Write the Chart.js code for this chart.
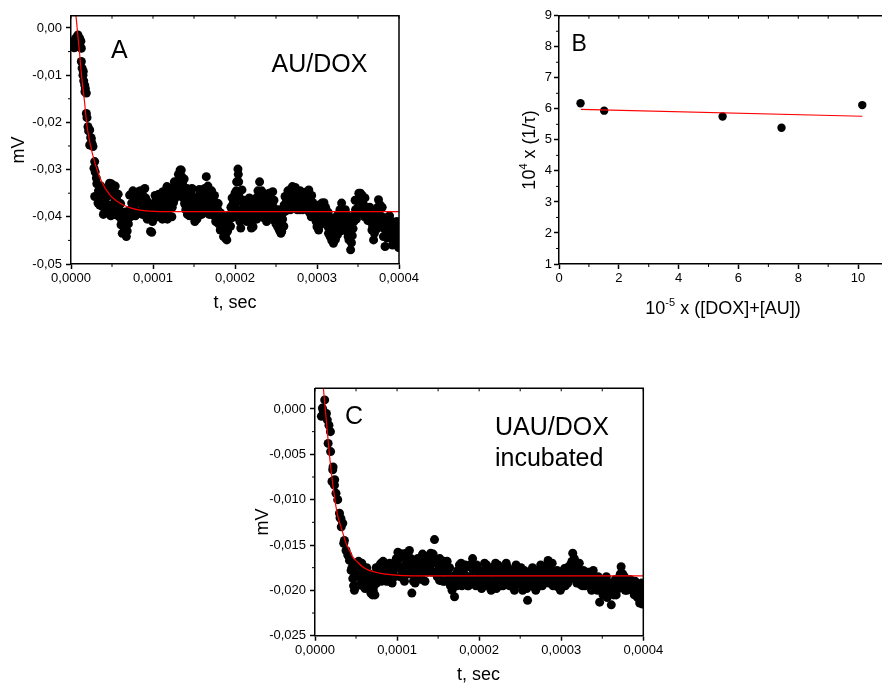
<!DOCTYPE html>
<html><head><meta charset="utf-8">
<script src="https://cdn.jsdelivr.net/npm/chart.js@4.4.1/dist/chart.umd.min.js"></script>
<style>
html,body{margin:0;padding:0;background:#fff;overflow:hidden;width:882px;height:683px;position:relative}
canvas{position:absolute;display:block}
</style></head><body>
<canvas id="cA" width="440" height="330" style="left:0;top:0"></canvas>
<canvas id="cB" width="420" height="330" style="left:500px;top:0"></canvas>
<canvas id="cC" width="440" height="313" style="left:240px;top:370px"></canvas>
<script>
// ---------- DATA (time in microseconds, signal in mV) ----------
const US = 1e-6;

// Panel A : AU/DOX
const pointsA = [[3,-0.0030],[4,-0.0042],[4.5,-0.0036],[5.5,-0.0022],[6.5,-0.0025],[7,-0.0040],[8,-0.0018],[8.5,-0.0015],[9.5,-0.0030],[10.6,-0.0022],[11,-0.0038],[12,-0.0028],[12.6,-0.0043],[12.6,-0.0071],[13.5,-0.0085],[14.6,-0.0100],[15,-0.0092],[15.5,-0.0112],[16.7,-0.0121],[17,-0.0135],[17.5,-0.0128],[18.7,-0.0138],[18.7,-0.0181],[19.5,-0.0190],[20.7,-0.0209],[21.5,-0.0218],[22.8,-0.0216],[22.8,-0.0248],[24,-0.0232],[24.8,-0.0234],[25.5,-0.0244],[26.8,-0.0251],[28,-0.0297],[28.9,-0.0283],[29.5,-0.0305],[30.9,-0.0318],[31.5,-0.0330],[28.9,-0.0357],[32.9,-0.0371],[33.5,-0.0345],[35,-0.0354],[35,-0.0375],
[37,-0.0340],[39,-0.0362],[41,-0.0382],[43,-0.0386],[45,-0.0386],[47,-0.0329],[49,-0.0330],[51,-0.0333],[53,-0.0346],[55,-0.0396],[57,-0.0395],[59,-0.0400],[61,-0.0417],[62,-0.0410],[64,-0.0421],[66,-0.0390],[67.5,-0.0442],[69.5,-0.0389],[71.5,-0.0354],[74,-0.0371],[76,-0.0357],[78,-0.0368],[80,-0.0350],[82,-0.0347],[84,-0.0370],[86,-0.0365],[88,-0.0380],[90,-0.0340],[92,-0.0375],[94,-0.0390],[96,-0.0403],[97,-0.0431],[98.4,-0.0433],[102,-0.0380],[104,-0.0365],[106,-0.0390],[108,-0.0364],[110,-0.0372],[112,-0.0347],[113,-0.0350],[115,-0.0380],[117,-0.0336],[118,-0.0396],[120,-0.0375],[122,-0.0340],[123,-0.0400],[125,-0.0370],[126,-0.0326],[128,-0.0340],[129,-0.0326],[131,-0.0310],[133,-0.0301],[134.5,-0.0301],[135,-0.0315],[136,-0.0330],[137,-0.0345],[138,-0.0360],[139,-0.0340],[141,-0.0364],[143,-0.0350],[145,-0.0375],[147,-0.0385],[149,-0.0393],[151,-0.0410],[153,-0.0370],[155,-0.0360],[157,-0.0350],[159,-0.0375],[161,-0.0350],[163,-0.0340],[165,-0.0315],[167,-0.0335],[169,-0.0370],[171,-0.0360],[173,-0.0380],[175,-0.0355],[177,-0.0370],[179,-0.0385],[181,-0.0400],[182,-0.0428],[184,-0.0410],[186,-0.0442],[188,-0.0420],[190,-0.0449],[191,-0.0430],[193,-0.0400],[195,-0.0380],[197,-0.0375],[198,-0.0364],[200,-0.0350],[202,-0.0326],[203.6,-0.0299],[204.5,-0.0326],[205,-0.0357],[206,-0.0386],[207,-0.0424],[208.5,-0.0343],[210,-0.0370],[212,-0.0385],[214,-0.0390],[216,-0.0375],[218,-0.0395],[220,-0.0424],[222,-0.0421],[224,-0.0380],[226,-0.0360],[228,-0.0345],[230,-0.0326],[232,-0.0370],[234,-0.0390],[236,-0.0385],[238,-0.0375],[240,-0.0360],[242,-0.0385],[244,-0.0380],[246,-0.0347],[248,-0.0407],[250,-0.0415],[252,-0.0421],[254,-0.0428],[256,-0.0435],[257,-0.0431],[259,-0.0390],[261,-0.0357],[263,-0.0365],[265,-0.0350],[267,-0.0345],[269,-0.0340],[270,-0.0336],[272,-0.0365],[274,-0.0380],[276,-0.0385],[278,-0.0357],[280,-0.0350],[282,-0.0365],[284,-0.0370],[286,-0.0355],[288,-0.0365],[290,-0.0343],[292,-0.0378],[294,-0.0385],[296,-0.0395],[298,-0.0400],[300,-0.0421],[302,-0.0428],[304,-0.0390],[306,-0.0371],[308,-0.0390],[310,-0.0407],[312,-0.0410],[314,-0.0435],[316,-0.0442],[318,-0.0450],[320,-0.0456],[322,-0.0420],[324,-0.0400],[326,-0.0420],[328,-0.0385],[330,-0.0371],[332,-0.0400],[334,-0.0415],[336,-0.0430],[338,-0.0442],[339,-0.0449],[341,-0.0470],[343,-0.0440],[345,-0.0410],[347,-0.0385],[349,-0.0364],[351,-0.0350],[353,-0.0350],[355,-0.0355],[357,-0.0375],[359,-0.0380],[361,-0.0400],[363,-0.0393],[365,-0.0410],[367,-0.0428],[369,-0.0449],[371,-0.0415],[373,-0.0390],[375,-0.0364],[377,-0.0375],[379,-0.0400],[381,-0.0442],[383,-0.0463],[385,-0.0420],[387,-0.0400],[389,-0.0415],[391,-0.0435],[393,-0.0449],[395,-0.0430],[397,-0.0442],[399,-0.0440],
[36,-0.0365],[38,-0.0378],[40,-0.0352],[42,-0.0392],[44,-0.0340],[46,-0.0375],[48,-0.0388],[50,-0.0355],[52,-0.0372],[54,-0.0335],[56,-0.0365],[58,-0.0380],[60,-0.0388],[63,-0.0398],[65,-0.0430],[68,-0.0405],[70,-0.0415],[73,-0.0385],[75,-0.0395],[77,-0.0378],[79,-0.0388],[81,-0.0368],[83,-0.0392],[85,-0.0352],[87,-0.0395],[89,-0.0372],[91,-0.0360],[93,-0.0405],[95,-0.0385],[99,-0.0395],[101,-0.0372],[103,-0.0395],[105,-0.0378],[107,-0.0352],[109,-0.0395],[111,-0.0385],[114,-0.0400],[116,-0.0362],[119,-0.0385],[121,-0.0365],[124,-0.0355],[127,-0.0350],[130,-0.0335],[132,-0.0355],[134,-0.0325],[136.5,-0.0360],[138.5,-0.0372],[140,-0.0385],[142,-0.0395],[144,-0.0362],[146,-0.0348],[148,-0.0360],[150,-0.0378],[152,-0.0395],[154,-0.0385],[156,-0.0375],[158,-0.0395],[160,-0.0372],[162,-0.0360],[164,-0.0345],[166,-0.0362],[168,-0.0352],[170,-0.0385],[172,-0.0395],[174,-0.0375],[176,-0.0392],[178,-0.0402],[180,-0.0415],[183,-0.0395],[185,-0.0425],[187,-0.0405],[189,-0.0435],[192,-0.0418],[194,-0.0395],[196,-0.0402],[199,-0.0385],[201,-0.0372],[203,-0.0350],[206.5,-0.0400],[209,-0.0392],[211,-0.0400],[213,-0.0372],[215,-0.0405],[217,-0.0385],[219,-0.0405],[221,-0.0395],[223,-0.0405],[225,-0.0385],[227,-0.0372],[229,-0.0358],[231,-0.0385],[233,-0.0355],[235,-0.0402],[237,-0.0395],[239,-0.0372],[241,-0.0395],[243,-0.0370],[245,-0.0390],[247,-0.0380],[249,-0.0395],[251,-0.0400],[253,-0.0410],[255,-0.0418],[258,-0.0405],[260,-0.0375],[262,-0.0380],[264,-0.0372],[266,-0.0360],[268,-0.0378],[271,-0.0352],[273,-0.0350],[275,-0.0365],[277,-0.0372],[279,-0.0385],[281,-0.0378],[283,-0.0352],[285,-0.0380],[287,-0.0372],[289,-0.0385],[291,-0.0365],[293,-0.0400],[295,-0.0370],[297,-0.0385],[299,-0.0410],[301,-0.0395],[303,-0.0412],[305,-0.0385],[307,-0.0402],[309,-0.0385],[311,-0.0395],[313,-0.0420],[315,-0.0400],[317,-0.0425],[319,-0.0435],[321,-0.0440],[323,-0.0405],[325,-0.0438],[327,-0.0400],[329,-0.0415],[331,-0.0392],[333,-0.0425],[335,-0.0400],[337,-0.0415],[340,-0.0425],[342,-0.0455],[344,-0.0425],[346,-0.0395],[348,-0.0405],[350,-0.0380],[352,-0.0370],[354,-0.0375],[356,-0.0392],[358,-0.0400],[360,-0.0385],[362,-0.0408],[364,-0.0402],[366,-0.0395],[368,-0.0420],[370,-0.0435],[372,-0.0402],[374,-0.0380],[376,-0.0395],[378,-0.0420],[380,-0.0410],[382,-0.0425],[384,-0.0440],[386,-0.0405],[388,-0.0435],[390,-0.0420],[392,-0.0460],[394,-0.0415],[396,-0.0455],[398,-0.0425],[400,-0.0455],
[36.5,-0.0335],[39.5,-0.0395],[42.5,-0.0360],[45.5,-0.0345],[48.5,-0.0398],[51.5,-0.0385],[54.5,-0.0370],[57.5,-0.0352],[60.5,-0.0372],[62.5,-0.0435],[64.5,-0.0400],[66.5,-0.0415],[68.5,-0.0430],[70.5,-0.0392],[72.5,-0.0400],[75.5,-0.0345],[78.5,-0.0398],[81.5,-0.0390],[84.5,-0.0345],[87.5,-0.0355],[90.5,-0.0395],[93.5,-0.0368],[96.5,-0.0375],[99.5,-0.0410],[102.5,-0.0355],[105.5,-0.0400],[108.5,-0.0390],[111.5,-0.0405],[114.5,-0.0360],[117.5,-0.0405],[120.5,-0.0352],[123.5,-0.0380],[126.5,-0.0362],[129.5,-0.0355],[132.5,-0.0320],[135.5,-0.0345],[138,-0.0320],[139.5,-0.0375],[141.5,-0.0340],[144.5,-0.0398],[147.5,-0.0340],[150.5,-0.0360],[153.5,-0.0405],[156.5,-0.0342],[159.5,-0.0395],[162.5,-0.0382],[165.5,-0.0345],[168.5,-0.0395],[171.5,-0.0345],[174.5,-0.0398],[176.5,-0.0410],[179.5,-0.0372],[182.5,-0.0392],[185.5,-0.0405],[188.5,-0.0445],[191.5,-0.0398],[194.5,-0.0420],[196.5,-0.0360],[199.5,-0.0400],[201.5,-0.0345],[204,-0.0310],[206,-0.0410],[209.5,-0.0405],[211.5,-0.0365],[214.5,-0.0410],[217.5,-0.0360],[220.5,-0.0385],[223.5,-0.0365],[226.5,-0.0405],[229.5,-0.0395],[232.5,-0.0345],[235.5,-0.0368],[238.5,-0.0410],[241.5,-0.0350],[244.5,-0.0405],[247.5,-0.0365],[250.5,-0.0390],[253.5,-0.0385],[256.5,-0.0400],[259.5,-0.0420],[261.5,-0.0388],[264.5,-0.0345],[267.5,-0.0385],[270.5,-0.0375],[273.5,-0.0338],[276.5,-0.0355],[279.5,-0.0345],[282.5,-0.0385],[285.5,-0.0348],[288.5,-0.0352],[290.5,-0.0390],[293.5,-0.0355],[296.5,-0.0375],[299.5,-0.0385],[302.5,-0.0375],[305.5,-0.0415],[308.5,-0.0370],[310.5,-0.0380],[313.5,-0.0390],[316.5,-0.0410],[319.5,-0.0405],[322.5,-0.0448],[325.5,-0.0395],[328.5,-0.0430],[331.5,-0.0420],[334.5,-0.0385],[337.5,-0.0398],[340.5,-0.0440],[343.5,-0.0405],[346.5,-0.0365],[349.5,-0.0395],[352.5,-0.0390],[355.5,-0.0368],[358.5,-0.0360],[361.5,-0.0385],[364.5,-0.0380],[367.5,-0.0400],[370.5,-0.0395],[373.5,-0.0425],[376.5,-0.0412],[379.5,-0.0380],[382.5,-0.0405],[385.5,-0.0445],[388.5,-0.0398],[391.5,-0.0410],[394.5,-0.0440],[397.5,-0.0410],[399.5,-0.0465]];
const fitA = [[5,0.0030],[6.1,0.0024],[8,-0.0010],[10.1,-0.0047],[13,-0.0103],[16.3,-0.0153],[19.1,-0.0202],[23.2,-0.0244],[29.3,-0.0287],[37.4,-0.0326],[47.6,-0.0354],[63.8,-0.0375],[84,-0.0386],[110,-0.0389],[400,-0.0389]];
const xTicksA = [0, 0.0001, 0.0002, 0.0003, 0.0004];
const xLabelsA = ['0,0000','0,0001','0,0002','0,0003','0,0004'];
const xMinorA = [0.00005, 0.00015, 0.00025, 0.00035];
const yTicksA = [-0.05,-0.04,-0.03,-0.02,-0.01,0];
const yLabelsA = ['-0,05','-0,04','-0,03','-0,02','-0,01','0,00'];
const yMinorA = [-0.045,-0.035,-0.025,-0.015,-0.005];

// Panel B : rate constant vs concentration
const concB = [0.72, 1.51, 5.47, 7.44, 10.14];
const rateB = [6.18, 5.94, 5.75, 5.39, 6.12];
const fitB = [[0.73,5.98],[10.14,5.76]];
const xTicksB = [0,2,4,6,8,10];
const xMinorB = [1,3,5,7,9,11];
const yTicksB = [1,2,3,4,5,6,7,8,9];
const yMinorB = [1.5,2.5,3.5,4.5,5.5,6.5,7.5,8.5];

// Panel C : UAU/DOX incubated
const pointsC = [[7.8,-0.0008],[9,0.0001],[10,-0.0002],[11.8,0.0010],[13.9,-0.0005],[15,-0.0012],[17,-0.0018],[18.8,-0.0025],[16,-0.0038],[19,-0.0047],[20.7,-0.0080],[21.6,-0.0067],[22,-0.0064],[23.7,-0.0084],[24,-0.0078],[25.6,-0.0093],[27.7,-0.0100],[29.8,-0.0115],[30.5,-0.0120],[31.7,-0.0121],[32,-0.0130],[33.8,-0.0126],[35,-0.0148],[35.8,-0.0145],[37.8,-0.0156],[39.9,-0.0161],[42,-0.0167],[44,-0.0178],[46,-0.0187],
[50,-0.0170],[54,-0.0178],[56,-0.0192],[60,-0.0180],[64,-0.0189],[68,-0.0203],[70,-0.0205],[72,-0.0195],[74,-0.0185],[76,-0.0178],[80.5,-0.0170],[84,-0.0172],[86,-0.0182],[90,-0.0190],[92,-0.0180],[95,-0.0185],[98,-0.0175],[101,-0.0158],[103,-0.0165],[106,-0.0178],[108,-0.0185],[111,-0.0159],[113,-0.0170],[115,-0.0156],[116,-0.0175],[118,-0.0203],[121,-0.0180],[124,-0.0175],[127,-0.0170],[129,-0.0167],[132,-0.0178],[135,-0.0165],[138,-0.0170],[141,-0.0159],[143,-0.0163],[145.6,-0.0144],[148,-0.0170],[151.7,-0.0189],[154,-0.0175],[157,-0.0168],[160,-0.0178],[163,-0.0185],[166,-0.0190],[170,-0.0207],[172,-0.0182],[175,-0.0188],[178,-0.0170],[181,-0.0180],[184,-0.0192],[188,-0.0185],[192,-0.0165],[195,-0.0178],[198,-0.0190],[202,-0.0192],[206.6,-0.0170],[210,-0.0182],[214.6,-0.0200],[218,-0.0178],[222,-0.0185],[226,-0.0195],[230,-0.0180],[233,-0.0170],[236,-0.0185],[240,-0.0190],[244,-0.0178],[248,-0.0188],[252,-0.0195],[256,-0.0185],[259,-0.0211],[262,-0.0180],[266,-0.0190],[270,-0.0182],[274,-0.0195],[278,-0.0178],[280,-0.0174],[284,-0.0167],[288,-0.0180],[292,-0.0188],[296,-0.0196],[300,-0.0183],[304,-0.0176],[308,-0.0192],[311,-0.0172],[314,-0.0159],[316,-0.0165],[318,-0.0178],[321,-0.0186],[324,-0.0194],[328,-0.0188],[332,-0.0185],[336,-0.0195],[340,-0.0190],[344,-0.0200],[346.8,-0.0213],[350,-0.0195],[354,-0.0190],[357,-0.0200],[361,-0.0216],[364,-0.0205],[368,-0.0195],[371,-0.0185],[373,-0.0174],[376,-0.0190],[379,-0.0195],[382,-0.0188],[385,-0.0198],[388,-0.0192],[391,-0.0200],[393,-0.0208],[395.6,-0.0214],[398,-0.0205],[400,-0.0210],
[45,-0.0175],[47,-0.0195],[49,-0.0185],[51,-0.0195],[53,-0.0168],[55,-0.0185],[58,-0.0195],[62,-0.0182],[66,-0.0198],[69,-0.0190],[73,-0.0205],[75,-0.0192],[78,-0.0188],[82,-0.0180],[88,-0.0175],[94,-0.0192],[97,-0.0185],[100,-0.0170],[104,-0.0185],[107,-0.0160],[110,-0.0172],[114,-0.0182],[117,-0.0165],[120,-0.0190],[123,-0.0185],[126,-0.0180],[130,-0.0188],[133,-0.0170],[137,-0.0180],[140,-0.0175],[144,-0.0160],[147,-0.0180],[150,-0.0172],[153,-0.0182],[156,-0.0190],[159,-0.0170],[162,-0.0178],[165,-0.0195],[168,-0.0185],[171,-0.0195],[174,-0.0178],[177,-0.0190],[180,-0.0185],[183,-0.0172],[186,-0.0195],[190,-0.0175],[194,-0.0188],[197,-0.0172],[200,-0.0185],[204,-0.0180],[208,-0.0190],[212,-0.0175],[216,-0.0192],[220,-0.0170],[224,-0.0180],[228,-0.0188],[232,-0.0192],[235,-0.0175],[238,-0.0182],[242,-0.0195],[246,-0.0185],[250,-0.0178],[254,-0.0190],[258,-0.0198],[264,-0.0185],[268,-0.0195],[272,-0.0178],[276,-0.0188],[282,-0.0185],[286,-0.0175],[290,-0.0195],[294,-0.0182],[298,-0.0190],[302,-0.0195],[306,-0.0182],[310,-0.0188],[313,-0.0168],[317,-0.0185],[320,-0.0175],[323,-0.0182],[326,-0.0195],[330,-0.0180],[334,-0.0192],[338,-0.0185],[342,-0.0195],[348,-0.0200],[352,-0.0188],[356,-0.0208],[359,-0.0195],[363,-0.0198],[366,-0.0188],[370,-0.0198],[375,-0.0182],[378,-0.0200],[381,-0.0195],[384,-0.0188],[387,-0.0200],[390,-0.0190],[394,-0.0205],[397,-0.0198],[399,-0.0215],
[46.5,-0.0178],[48,-0.0200],[52,-0.0180],[57,-0.0170],[59,-0.0188],[61,-0.0198],[63,-0.0175],[65,-0.0190],[67,-0.0182],[71,-0.0200],[74.5,-0.0175],[77,-0.0185],[79,-0.0172],[81,-0.0190],[83,-0.0168],[85,-0.0178],[87,-0.0190],[89,-0.0182],[91,-0.0170],[93,-0.0188],[96,-0.0178],[99,-0.0165],[102,-0.0175],[105,-0.0160],[109,-0.0190],[112,-0.0165],[119,-0.0172],[122,-0.0192],[125,-0.0165],[128,-0.0185],[131,-0.0160],[134,-0.0190],[136,-0.0172],[139,-0.0162],[142,-0.0180],[146,-0.0165],[149,-0.0185],[152,-0.0165],[155,-0.0180],[158,-0.0190],[161,-0.0168],[164,-0.0175],[167,-0.0200],[169,-0.0190],[173,-0.0195],[176,-0.0172],[179,-0.0195],[182,-0.0175],[185,-0.0185],[187,-0.0195],[189,-0.0172],[191,-0.0190],[193,-0.0178],[196,-0.0195],[199,-0.0178],[201,-0.0178],[203,-0.0198],[205,-0.0185],[207,-0.0195],[209,-0.0172],[211,-0.0190],[213,-0.0182],[217,-0.0175],[219,-0.0190],[221,-0.0198],[223,-0.0172],[225,-0.0188],[227,-0.0178],[229,-0.0195],[231,-0.0175],[234,-0.0190],[237,-0.0195],[239,-0.0178],[241,-0.0185],[243,-0.0200],[245,-0.0172],[247,-0.0192],[249,-0.0182],[251,-0.0175],[253,-0.0200],[255,-0.0178],[257,-0.0192],[260,-0.0188],[263,-0.0195],[265,-0.0175],[267,-0.0185],[269,-0.0200],[271,-0.0190],[273,-0.0182],[275,-0.0172],[277,-0.0195],[279,-0.0185],[281,-0.0190],[283,-0.0178],[285,-0.0192],[287,-0.0185],[289,-0.0170],[291,-0.0180],[293,-0.0195],[295,-0.0178],[297,-0.0185],[299,-0.0200],[301,-0.0188],[303,-0.0180],[305,-0.0195],[307,-0.0175],[309,-0.0182],[312,-0.0178],[315,-0.0172],[319,-0.0192],[322,-0.0170],[325,-0.0185],[327,-0.0178],[329,-0.0195],[331,-0.0192],[333,-0.0180],[335,-0.0188],[337,-0.0200],[339,-0.0178],[341,-0.0185],[343,-0.0192],[345,-0.0185],[347,-0.0195],[349,-0.0190],[351,-0.0205],[353,-0.0195],[355,-0.0185],[358,-0.0205],[360,-0.0192],[362,-0.0200],[365,-0.0192],[367,-0.0205],[369,-0.0190],[372,-0.0182],[374,-0.0195],[377,-0.0185],[380,-0.0200],[383,-0.0195],[386,-0.0190],[389,-0.0205],[392,-0.0195],[396,-0.0200],[398,-0.0192]];
const fitC = [[9.5,0.0030],[12,0.0005],[15,-0.0025],[19.5,-0.0067],[22,-0.0085],[25.6,-0.0108],[28,-0.0119],[31.7,-0.0130],[35,-0.0140],[37.8,-0.0148],[42,-0.0156],[46,-0.0163],[52,-0.0169],[58,-0.0174],[66,-0.0178],[78.5,-0.0181],[95,-0.0183],[120,-0.0184],[400,-0.0184]];
const xTicksC = [0, 0.0001, 0.0002, 0.0003, 0.0004];
const xLabelsC = ['0,0000','0,0001','0,0002','0,0003','0,0004'];
const xMinorC = [0.00005, 0.00015, 0.00025, 0.00035];
const yTicksC = [-0.025,-0.02,-0.015,-0.01,-0.005,0];
const yLabelsC = ['-0,025','-0,020','-0,015','-0,010','-0,005','0,000'];
const yMinorC = [-0.0225,-0.0175,-0.0125,-0.0075,-0.0025];

// ---------- DRAWING ----------
const FONT = "'Liberation Sans', Arial, sans-serif";

function richText(ctx, parts, x, y, size, align, rotate) {
  ctx.save();
  ctx.translate(x, y);
  if (rotate) ctx.rotate(-Math.PI / 2);
  ctx.fillStyle = '#000';
  ctx.textBaseline = 'alphabetic';
  ctx.textAlign = 'left';
  const fontOf = p => (p.sup ? Math.round(size * 0.62) : size) + 'px ' + FONT;
  let w = 0;
  parts.forEach(p => { ctx.font = fontOf(p); w += ctx.measureText(p.t).width; });
  let cx = align === 'center' ? -w / 2 : 0;
  parts.forEach(p => {
    ctx.font = fontOf(p);
    ctx.fillText(p.t, cx, p.sup ? -size * 0.42 : 0);
    cx += ctx.measureText(p.t).width;
  });
  ctx.restore();
}

const deco = {
  id: 'deco',
  afterDatasetsDraw(chart, args, o) {
    const {ctx, chartArea: a, scales: {x, y}} = chart;
    ctx.save();
    ctx.strokeStyle = '#000';
    ctx.lineWidth = 1.5;
    ctx.beginPath();
    ctx.moveTo(a.left, a.top); ctx.lineTo(a.right, a.top); ctx.lineTo(a.right, a.bottom);
    ctx.stroke();
    ctx.lineWidth = 1;
    ctx.beginPath();
    o.xMinor.forEach(v => { const p = x.getPixelForValue(v); ctx.moveTo(p, a.bottom); ctx.lineTo(p, a.bottom + 3); });
    o.yMinor.forEach(v => { const p = y.getPixelForValue(v); ctx.moveTo(a.left - 3, p); ctx.lineTo(a.left, p); });
    o.xMajor.concat(o.xMinor).forEach(v => { const p = x.getPixelForValue(v); ctx.moveTo(p, a.top); ctx.lineTo(p, a.top + 3); });
    ctx.stroke();
    ctx.restore();
    o.texts.forEach(t => richText(ctx, t.parts, t.x - o.ox, t.y - o.oy, t.size, t.align, t.rot));
  }
};

function makePanel(id, g, datasets, ax, ay, texts) {
  const c = document.getElementById(id);
  const axisFont = {family: FONT, size: 13};
  const gridOpt = {drawOnChartArea: false, drawTicks: true, tickLength: 5, tickWidth: 1.5, tickColor: '#000'};
  new Chart(c, {
    type: 'scatter',
    data: {datasets},
    options: {
      responsive: false, animation: false, events: [],
      layout: {padding: {left: 0, top: g.aT - g.top, right: g.left + c.width - g.aR, bottom: 0}},
      plugins: {
        legend: {display: false}, tooltip: {enabled: false},
        deco: {xMinor: ax.minor, yMinor: ay.minor, xMajor: ax.ticks, texts, ox: g.left, oy: g.top}
      },
      scales: {
        x: {
          type: 'linear', position: 'bottom', min: ax.min, max: ax.max,
          afterBuildTicks: s => { s.ticks = ax.ticks.map(v => ({value: v})); },
          afterFit: s => { s.height = g.top + c.height - g.aB; },
          ticks: {callback: (v, i) => ax.labels[i], font: axisFont, color: '#000', padding: ax.pad, maxRotation: 0, autoSkip: false},
          grid: gridOpt, border: {display: true, color: '#000', width: 1.5}
        },
        y: {
          type: 'linear', position: 'left', min: ay.min, max: ay.max,
          afterBuildTicks: s => { s.ticks = ay.ticks.map(v => ({value: v})); },
          afterFit: s => { s.width = g.aL - g.left; },
          ticks: {callback: (v, i) => ay.labels[i], font: axisFont, color: '#000', padding: ay.pad, autoSkip: false},
          grid: gridOpt, border: {display: true, color: '#000', width: 1.5}
        }
      }
    },
    plugins: [deco]
  });
}

function fitSet(pts) {
  return {data: pts, showLine: true, pointRadius: 0, borderColor: '#ff0000', borderWidth: 1.2,
          cubicInterpolationMode: 'monotone', clip: 0};
}
function dotSet(pts, r) {
  return {data: pts, showLine: false, pointRadius: r, pointBackgroundColor: '#000', pointBorderWidth: 0,
          pointBorderColor: '#000', clip: 0};
}
const toXY = arr => arr.map(p => ({x: p[0] * US, y: p[1]}));

// Panel A
makePanel('cA', {left: 0, top: 0, aL: 71, aT: 15.7, aR: 399, aB: 264},
  [fitSet(toXY(fitA)), dotSet(toXY(pointsA), 4.5)],
  {min: 0, max: 0.0004, ticks: xTicksA, labels: xLabelsA, minor: xMinorA, pad: 2},
  {min: -0.05, max: 0.0026, ticks: yTicksA, labels: yLabelsA, minor: yMinorA, pad: 4},
  [
    {parts: [{t: 'A'}], x: 111, y: 57.5, size: 25, align: 'left'},
    {parts: [{t: 'AU/DOX'}], x: 271.5, y: 71.5, size: 25, align: 'left'},
    {parts: [{t: 'mV'}], x: 23.5, y: 150, size: 18, align: 'center', rot: true},
    {parts: [{t: 't, sec'}], x: 235, y: 308, size: 18, align: 'center'}
  ]);

// Panel B
makePanel('cB', {left: 500, top: 0, aL: 559, aT: 15.7, aR: 888, aB: 264},
  [{data: fitB.map(p => ({x: p[0], y: p[1]})), showLine: true, pointRadius: 0, borderColor: '#ff0000', borderWidth: 1.2, clip: 0},
   dotSet(concB.map((c, i) => ({x: c, y: rateB[i]})), 4.2)],
  {min: 0, max: 11, ticks: xTicksB, labels: xTicksB.map(String), minor: xMinorB, pad: 2},
  {min: 1, max: 9, ticks: yTicksB, labels: yTicksB.map(String), minor: yMinorB, pad: 2},
  [
    {parts: [{t: 'B'}], x: 571.5, y: 50.7, size: 23, align: 'left'},
    {parts: [{t: '10'}, {t: '4', sup: true}, {t: ' x (1/τ)'}], x: 534.5, y: 150, size: 18, align: 'center', rot: true},
    {parts: [{t: '10'}, {t: '-5', sup: true}, {t: ' x ([DOX]+[AU])'}], x: 723, y: 314, size: 18, align: 'center'}
  ]);

// Panel C
makePanel('cC', {left: 240, top: 370, aL: 315, aT: 388.3, aR: 643.3, aB: 635.7},
  [fitSet(toXY(fitC)), dotSet(toXY(pointsC), 4.5)],
  {min: 0, max: 0.0004, ticks: xTicksC, labels: xLabelsC, minor: xMinorC, pad: 2},
  {min: -0.025, max: 0.00228, ticks: yTicksC, labels: yLabelsC, minor: yMinorC, pad: 4},
  [
    {parts: [{t: 'C'}], x: 345, y: 424, size: 25, align: 'left'},
    {parts: [{t: 'UAU/DOX'}], x: 495, y: 435, size: 25, align: 'left'},
    {parts: [{t: 'incubated'}], x: 495, y: 466, size: 25, align: 'left'},
    {parts: [{t: 'mV'}], x: 267.5, y: 522, size: 18, align: 'center', rot: true},
    {parts: [{t: 't, sec'}], x: 478.5, y: 680, size: 18, align: 'center'}
  ]);
</script>
</body></html>
